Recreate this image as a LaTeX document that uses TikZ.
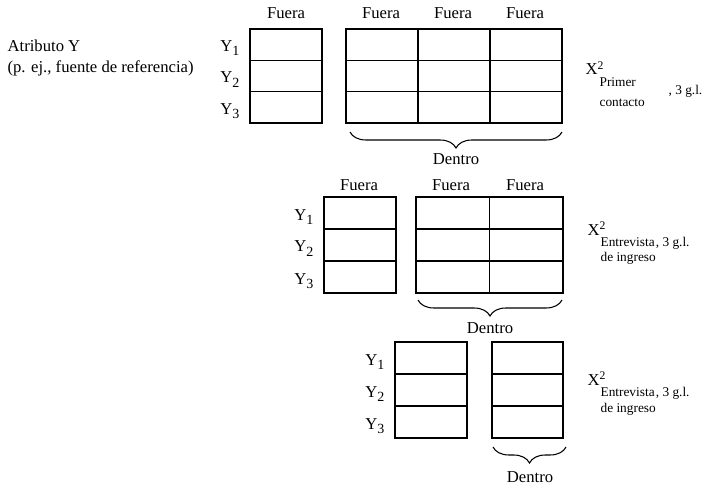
\documentclass[tikz,border=0pt]{standalone}
\usepackage{fontspec}
\setmainfont{Liberation Serif}
\usetikzlibrary{decorations.pathreplacing}

\newcommand{\ylab}[1]{Y\raisebox{-.55ex}{\fontsize{10.5}{12}\selectfont #1}}

\tikzset{
  lbl/.style={font=\fontsize{12.5}{15}\selectfont, inner sep=0pt},
  sublbl/.style={font=\fontsize{10}{12}\selectfont, inner sep=0pt},
  dentro/.style={decorate, decoration={brace, mirror, amplitude=12pt}, line width=.8pt}
}

\begin{document}
\begin{tikzpicture}[x=.75pt, y=-.75pt, line width=.9pt]
\useasboundingbox (0,0) rectangle (715,485);

\node[lbl, anchor=base west] (atrib) at (7,52) {Atributo Y};
\node[lbl, anchor=base west] (fuente) at (7,73) {(p. ej., fuente de referencia)};

% primer contacto
\foreach \r in {0,1,2}{
	\draw (250,29+31.33*\r) rectangle +(72,31.33);
	\foreach \c in {0,1,2}{
\draw (346+72*\c,29+31.33*\r) rectangle +(72,31.33);
}}
\node[lbl] (fA0) at (286,13) {Fuera};
\foreach \x [count=\i] in {381,453,525} \node[lbl] (fA\i) at (\x,13) {Fuera};
\foreach \y [count=\i] in {44.7,76,107.3} \node[lbl, anchor=base east] (yA\i) at (240,\y+7) {\ylab{\i}};
\coordinate (bA1) at (350,132);
\coordinate (bA2) at (562,132);
\draw[dentro] (bA1) -- (bA2);
\node[lbl] (dA) at (456,159) {Dentro};
\node[lbl, anchor=base west] (chiA) at (585,75) {X\textsuperscript{2}};
\node[sublbl, anchor=base west] (pA) at (599,87) {Primer};
\node[sublbl, anchor=base west] (cA) at (599,107) {contacto};
\node[sublbl, anchor=base west] (gA) at (668,95) {, 3 g.l.};

% entrevista de ingreso, 2 columnas
\foreach \r in {0,1,2}{
	\draw (324,197+32*\r) rectangle +(72,32);
	\foreach \c in {0,1}{
\draw (416+73.5*\c,197+32*\r) rectangle +(73.5,32);
}}
\node[lbl] (fB0) at (359,185) {Fuera};
\foreach \x [count=\i] in {451,525} \node[lbl] (fB\i) at (\x,185) {Fuera};
\foreach \y [count=\i] in {213,245,277} \node[lbl, anchor=base east] (yB\i) at (314,\y+7) {\ylab{\i}};
\coordinate (bB1) at (418,300);
\coordinate (bB2) at (562,300);
\draw[dentro] (bB1) -- (bB2);
\node[lbl] (dB) at (490,328) {Dentro};
\node[lbl, anchor=base west] (chiB) at (587,235) {X\textsuperscript{2}};
\node[sublbl, anchor=base west] (eB) at (600,246) {Entrevista};
\node[sublbl, anchor=base west] (iB) at (600,261) {de ingreso};
\node[sublbl, anchor=base west] (gB) at (eB.base east) {, 3 g.l.};

% entrevista de ingreso, 1 columna
\foreach \r in {0,1,2}{
	\draw (395,342+32*\r) rectangle +(72,32);
	\draw (492,342+32*\r) rectangle +(71,32);
}
\foreach \y [count=\i] in {358,390,422} \node[lbl, anchor=base east] (yC\i) at (385,\y+7) {\ylab{\i}};
\coordinate (bC1) at (493,447);
\coordinate (bC2) at (566,447);
\draw[dentro] (bC1) -- (bC2);
\node[lbl] (dC) at (530,477) {Dentro};
\node[lbl, anchor=base west] (chiC) at (587,385) {X\textsuperscript{2}};
\node[sublbl, anchor=base west] (eC) at (600,396) {Entrevista};
\node[sublbl, anchor=base west] (iC) at (600,412) {de ingreso};
\node[sublbl, anchor=base west] (gC) at (eC.base east) {, 3 g.l.};
\end{tikzpicture}
\end{document}
